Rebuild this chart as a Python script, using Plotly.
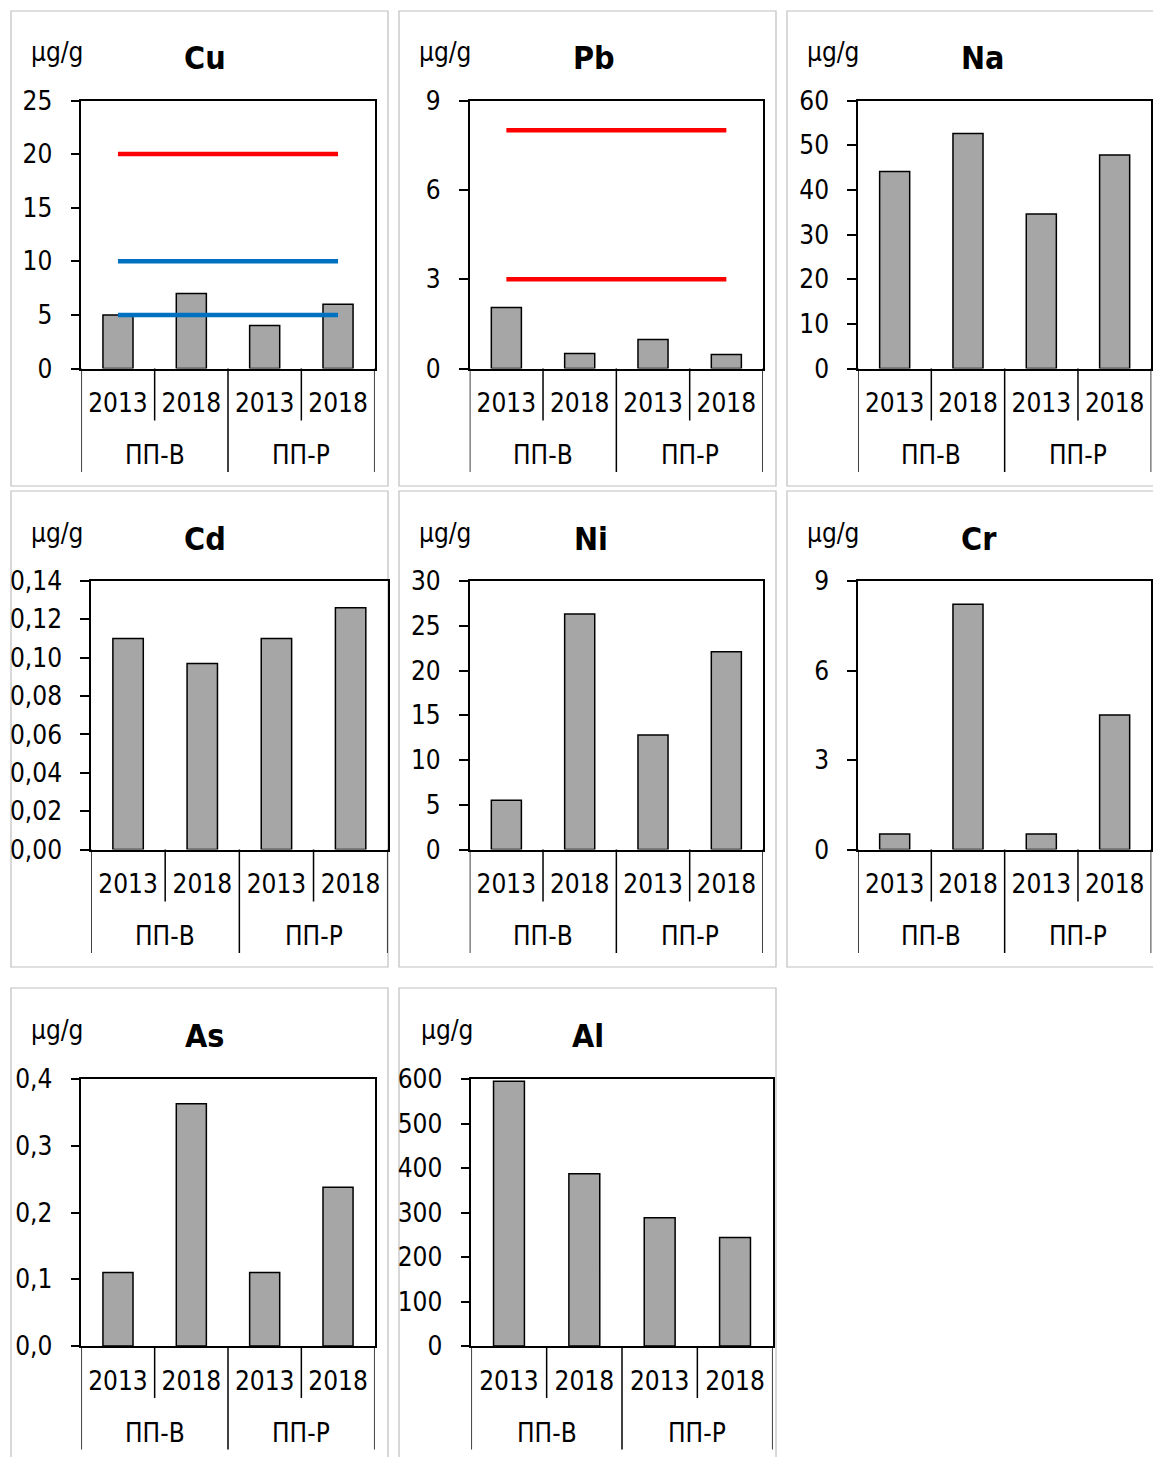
import plotly.graph_objects as go

W, H = 1153, 1457
FONT = "DejaVu Sans Condensed, DejaVu Sans, sans-serif"

# ---------------- data ----------------
groups = ["ПП-В", "ПП-Р"]
years = ["2013", "2018"]
unit = "µg/g"
elements = ["Cu", "Pb", "Na", "Cd", "Ni", "Cr", "As", "Al"]

cu = [5.0, 7.0, 4.0, 6.0]
pb = [2.05, 0.50, 0.97, 0.47]
na = [44.1, 52.6, 34.6, 47.8]
cd = [0.110, 0.097, 0.110, 0.126]
ni = [5.5, 26.3, 12.8, 22.1]
cr = [0.52, 8.22, 0.52, 4.51]
as_ = [0.110, 0.363, 0.110, 0.238]
al = [595, 387, 288, 244]

cu_red_limits = [20]
cu_blue_limits = [10, 5]
pb_red_limits = [8, 3]

y_max = [25, 9, 60, 0.14, 30, 9, 0.4, 600]
y_step = [5, 3, 10, 0.02, 5, 3, 0.1, 100]
y_fmt = ["d", "d", "d", ".2f", "d", "d", ".1f", "d"]

values = [cu, pb, na, cd, ni, cr, as_, al]
limits = {
    "Cu": [(v, "#FF0000") for v in cu_red_limits] + [(v, "#0070C0") for v in cu_blue_limits],
    "Pb": [(v, "#FF0000") for v in pb_red_limits],
}

categories = [f"{g} {y}" for g in groups for y in years]
year_labels = [y for g in groups for y in years]

# ---------------- geometry (pixels) ----------------
rows = {1: (100.5, 368.5, 52, 57.5, (11, 11, 388, 486)),
        2: (581, 849.5, 533, 539, (11, 491, 388, 967)),
        3: (1079, 1346, 1030, 1036, (11, 988, 388, 1475))}
geo = [
    (81.3, 374.7, 1, 29, 205, 0),
    (469.7, 763, 1, 417, 594, 1),
    (858, 1151.3, 1, 805, 983, 2),
    (91, 387.7, 2, 29, 205, 0),
    (469.7, 763, 2, 417, 591, 1),
    (858, 1151.3, 2, 805, 979, 2),
    (81.3, 374.7, 3, 29, 204, 0),
    (471.3, 772.7, 3, 419, 588, 1),
]
col_x = [(11, 388), (399, 776), (787, 1180)]


def fx(px):
    return px / W


def fy(py):
    return 1 - py / H


fig = go.Figure()
annotations = []
shapes = []
layout = {}
TXT = 26

for i, el in enumerate(elements):
    n = i + 1
    xs = "x" if n == 1 else f"x{n}"
    ys = "y" if n == 1 else f"y{n}"
    xk = "xaxis" if n == 1 else f"xaxis{n}"
    yk = "yaxis" if n == 1 else f"yaxis{n}"
    left, right, row, unit_x, title_x, col = geo[i]
    top, bottom, unit_y, title_y, _ = rows[row]
    brow = rows[row][4]
    bx0, bx1 = col_x[col]

    fig.add_trace(go.Bar(
        x=categories, y=values[i], xaxis=xs, yaxis=ys, width=0.41,
        marker=dict(color="#A6A6A6", line=dict(color="black", width=1.5)),
        showlegend=False, hoverinfo="x+y"))
    for v, c in limits.get(el, []):
        fig.add_trace(go.Scatter(
            x=[categories[0], categories[-1]], y=[v, v], xaxis=xs, yaxis=ys,
            mode="lines", line=dict(color=c, width=4.5), showlegend=False))

    layout[xk] = dict(
        domain=[fx(left), fx(right)], anchor=ys, type="category", automargin=False,
        range=[-0.5, 3.5], tickmode="array", tickvals=categories, ticktext=year_labels,
        ticks="", showline=True, linecolor="black", linewidth=1.5, mirror=True,
        showgrid=False, zeroline=False, ticklabelstandoff=11,
        tickfont=dict(family=FONT, size=TXT, color="black"), fixedrange=True)
    layout[yk] = dict(
        domain=[fy(bottom), fy(top)], anchor=xs, range=[0, y_max[i]], automargin=False,
        tick0=0, dtick=y_step[i], tickformat=y_fmt[i], ticks="outside", ticklen=9,
        tickwidth=1.5, tickcolor="black", showline=True, linecolor="black",
        linewidth=1.5, mirror=True, showgrid=False, zeroline=False,
        ticklabelstandoff=13,
        tickfont=dict(family=FONT, size=TXT, color="black"), fixedrange=True)

    shapes.append(dict(type="rect", xref="paper", yref="paper",
                       x0=fx(bx0), x1=fx(bx1), y0=fy(brow[1]), y1=fy(brow[3]),
                       line=dict(color="#BFBFBF", width=1.2), layer="below"))
    for k in range(5):
        ext = 103.5 if k % 2 == 0 else 52
        shapes.append(dict(type="line", xref=xs, yref="paper",
                           x0=k - 0.5, x1=k - 0.5, y0=fy(bottom), y1=fy(bottom + ext),
                           line=dict(color="black", width=1.5)))
    for gi, g in enumerate(groups):
        annotations.append(dict(text=g, xref=xs, yref="paper", x=gi * 2 + 0.5,
                                y=fy(bottom + 86.5), xanchor="center", yanchor="middle",
                                showarrow=False, font=dict(family=FONT, size=TXT, color="black")))
    annotations.append(dict(text=unit, xref="paper", yref="paper", x=fx(unit_x), y=fy(unit_y),
                            xanchor="left", yanchor="middle", showarrow=False,
                            font=dict(family=FONT, size=TXT, color="black")))
    annotations.append(dict(text=f"<b>{el}</b>", xref="paper", yref="paper", x=fx(title_x),
                            y=fy(title_y), xanchor="center", yanchor="middle", showarrow=False,
                            font=dict(family=FONT, size=32, color="black")))

fig.update_layout(
    width=W, height=H, margin=dict(l=0, r=0, t=0, b=0, autoexpand=False),
    paper_bgcolor="white", plot_bgcolor="white",
    separators=", ", bargap=0.5,
    annotations=annotations, shapes=shapes, **layout)

fig.write_html("out.html", config={"displayModeBar": False},
               post_script="document.body.style.margin='0px';document.body.style.overflow='hidden';")
